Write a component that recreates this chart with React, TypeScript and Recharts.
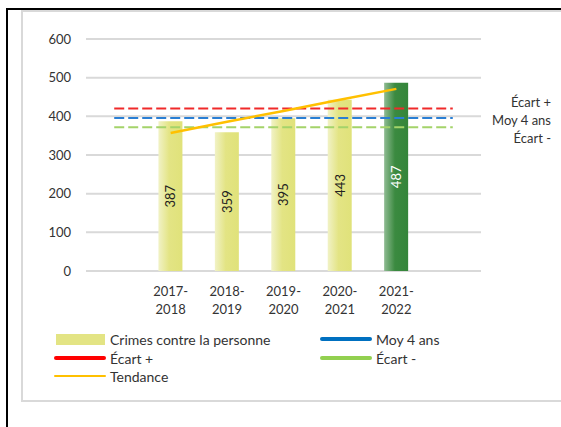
import React from "react";
import {
  ComposedChart,
  Bar,
  Line,
  XAxis,
  YAxis,
  CartesianGrid,
  Cell,
  LabelList,
  Legend,
} from "recharts";

const categories = ["", "2017-2018", "2018-2019", "2019-2020", "2020-2021", "2021-2022", ""];
const crimes = [null, 387, 359, 395, 443, 487, null];
const moy4ans = [396, 396, 396, 396, 396, 396, 396];
const ecartPlus = [420, 420, 420, 420, 420, 420, 420];
const ecartMinus = [372, 372, 372, 372, 372, 372, 372];
const tendance = [null, 357, 386, 414, 443, 471, null];
const yTicks = [0, 100, 200, 300, 400, 500, 600];
const highlightIndex = 5;

const seriesNames = {
  crimes: "Crimes contre la personne",
  moy: "Moy 4 ans",
  plus: "Écart +",
  minus: "Écart -",
  trend: "Tendance",
};

const data = categories.map((c, i) => ({
  cat: c,
  crimes: crimes[i],
  moy: moy4ans[i],
  plus: ecartPlus[i],
  minus: ecartMinus[i],
  trend: tendance[i],
  highlight: i === highlightIndex,
}));

const FONT = "Lato, 'Open Sans', sans-serif";
const TEXT = "#333333";

const XTick = (props: any) => {
  const { x, y, payload } = props;
  const v: string = payload && payload.value ? String(payload.value) : "";
  if (!v) return null;
  const [a, b] = v.split("-");
  return (
    <text x={x} textAnchor="middle" fontSize={13} fontFamily={FONT} fill={TEXT}>
      <tspan x={x} y={y + 17}>{a}-</tspan>
      <tspan x={x} y={y + 35}>{b}</tspan>
    </text>
  );
};

const BarLabel = (props: any) => {
  const { x, y, width, height, value } = props;
  if (value == null) return null;
  const cx = Number(x) + Number(width) / 2;
  const cy = Number(y) + Number(height) / 2;
  const isHighlight = value === crimes[highlightIndex];
  return (
    <text
      x={cx}
      y={cy}
      transform={`rotate(-90 ${cx} ${cy})`}
      textAnchor="middle"
      dominantBaseline="central"
      fontSize={13}
      fontFamily={FONT}
      fill={isHighlight ? "#ffffff" : "#222222"}
    >
      {value}
    </text>
  );
};

const LegendContent = () => {
  const item = (swatch: React.ReactNode, label: string, left: number, top: number) => (
    <div style={{ position: "absolute", left, top, display: "flex", alignItems: "center", height: 18 }}>
      <div style={{ width: 52, display: "flex", alignItems: "center" }}>{swatch}</div>
      <span style={{ marginLeft: 4, fontSize: 14, fontFamily: FONT, color: TEXT, whiteSpace: "nowrap" }}>{label}</span>
    </div>
  );
  const lineSw = (color: string, h: number) => (
    <div style={{ width: 52, height: h, background: color, borderRadius: h / 2 }} />
  );
  return (
    <div style={{ position: "relative", width: 561, height: 60 }}>
      {item(<div style={{ width: 49, height: 11, marginLeft: 2, background: "#e3e484" }} />, seriesNames.crimes, 54, 0)}
      {item(lineSw("#0070c0", 4), seriesNames.moy, 320, 0)}
      {item(lineSw("#ff0000", 4), seriesNames.plus, 54, 19)}
      {item(lineSw("#92d050", 4), seriesNames.minus, 320, 19)}
      {item(lineSw("#ffc000", 2), seriesNames.trend, 54, 37)}
    </div>
  );
};

export default function App() {
  return (
    <div style={{ position: "absolute", left: 0, top: 0, width: 561, height: 427, background: "#fff", overflow: "hidden" }}>
      <div style={{ position: "absolute", left: 6, top: 8, width: 600, height: 2, background: "#000" }} />
      <div style={{ position: "absolute", left: 6, top: 8, width: 2, height: 430, background: "#000" }} />
      <div
        style={{
          position: "absolute",
          left: 21,
          top: 10,
          width: 600,
          height: 392,
          border: "2px solid #d9d9d9",
          boxSizing: "border-box",
        }}
      />
      <div style={{ position: "absolute", left: 0, top: 0 }}>
        <ComposedChart
          width={561}
          height={427}
          data={data}
          margin={{ top: 39, right: 80, left: 0, bottom: 126 }}
        >
          <defs>
            <linearGradient id="gYellow" x1="0" y1="0" x2="1" y2="0">
              <stop offset="0%" stopColor="#f1f2c6" />
              <stop offset="45%" stopColor="#e3e484" />
              <stop offset="100%" stopColor="#e0e27a" />
            </linearGradient>
            <linearGradient id="gGreen" x1="0" y1="0" x2="1" y2="0">
              <stop offset="0%" stopColor="#8fbb92" />
              <stop offset="45%" stopColor="#3b8a40" />
              <stop offset="100%" stopColor="#34853a" />
            </linearGradient>
          </defs>
          <CartesianGrid vertical={false} stroke="#d9d9d9" strokeWidth={2} />
          <XAxis
            dataKey="cat"
            axisLine={false}
            tickLine={false}
            height={30}
            interval={0}
            tick={<XTick />}
          />
          <YAxis
            width={86}
            domain={[0, 600]}
            ticks={yTicks}
            axisLine={false}
            tickLine={false}
            tickMargin={9}
            tick={{ fontSize: 13, fontFamily: FONT, fill: TEXT }}
          />
          <Legend
            layout="horizontal"
            verticalAlign="middle"
            align="center"
            wrapperStyle={{ position: "absolute", left: 0, top: 330, width: 561, height: 60 }}
            content={<LegendContent />}
          />
          <Bar dataKey="crimes" barSize={24} isAnimationActive={false}>
            {data.map((d, i) => (
              <Cell key={i} fill={d.highlight ? "url(#gGreen)" : "url(#gYellow)"} />
            ))}
            <LabelList dataKey="crimes" content={<BarLabel />} />
          </Bar>
          <Line dataKey="plus" stroke="#f02a2a" strokeWidth={2} strokeDasharray="10 4" dot={false} activeDot={false} isAnimationActive={false} />
          <Line dataKey="moy" stroke="#2a7fd4" strokeWidth={2} strokeDasharray="10 4" dot={false} activeDot={false} isAnimationActive={false} />
          <Line dataKey="minus" stroke="#a4d36a" strokeWidth={2} strokeDasharray="10 4" dot={false} activeDot={false} isAnimationActive={false} />
          <Line dataKey="trend" stroke="#ffc000" strokeWidth={2.5} dot={false} activeDot={false} isAnimationActive={false} connectNulls={false} />
        </ComposedChart>
      </div>
      <div style={{ position: "absolute", right: 10, top: 93, textAlign: "right", fontSize: 13, fontFamily: FONT, color: TEXT, lineHeight: "18px" }}>
        <div>{seriesNames.plus}</div>
        <div>{seriesNames.moy}</div>
        <div>{seriesNames.minus}</div>
      </div>
    </div>
  );
}
